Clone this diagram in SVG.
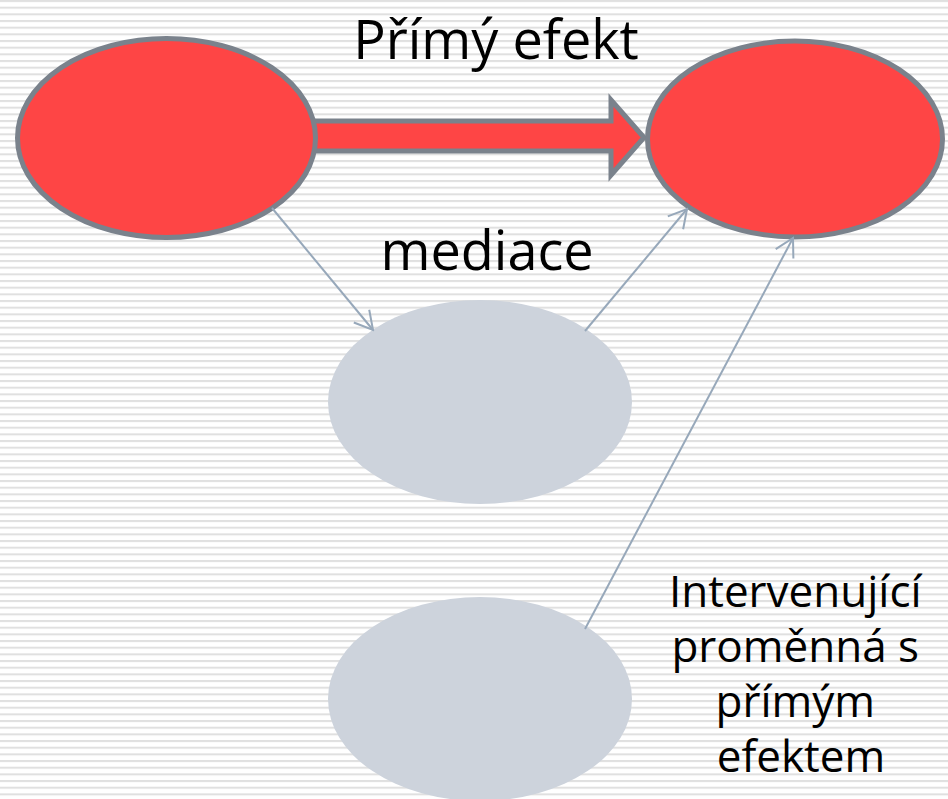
<svg xmlns="http://www.w3.org/2000/svg" width="948" height="799" viewBox="0 0 948 799">
  <defs>
    <pattern id="stripes" x="0" y="0" width="20" height="6.667" patternUnits="userSpaceOnUse">
      <rect x="0" y="0" width="20" height="6.667" fill="#ffffff"/>
      <rect x="0" y="0" width="20" height="2" fill="#e0e0e0"/>
    </pattern>
    <marker id="open" markerUnits="userSpaceOnUse" viewBox="-22 -12 24 24" refX="0" refY="0" markerWidth="24" markerHeight="24" orient="auto">
      <path d="M-18,-10 L0,0 L-18,10" fill="none" stroke="#97a8ba" stroke-width="2"/>
    </marker>
  </defs>
  <style>
    .red { fill: #fe4545; stroke: #7a828c; stroke-width: 5; }
    .grey { fill: #cdd3dc; stroke: none; }
    .conn { fill: none; stroke: #97a8ba; stroke-width: 2; marker-end: url(#open); }
    .lbl { font-family: "Open Sans", "Noto Sans", "DejaVu Sans", sans-serif; fill: #000000; text-anchor: middle; }
  </style>
  <rect width="948" height="799" fill="url(#stripes)"/>

  <g id="direct-arrow">
    <polygon class="red" stroke-linejoin="miter" points="300,121 611,121 611,100 644,137.5 611,175 611,151 300,151"/>
  </g>

  <g id="node-x">
    <ellipse class="red" cx="166.5" cy="138" rx="149" ry="99.5"/>
  </g>
  <g id="node-y">
    <ellipse class="red" cx="795" cy="139" rx="147.5" ry="98"/>
  </g>
  <g id="node-mediator">
    <ellipse class="grey" cx="480" cy="402" rx="152" ry="102"/>
  </g>
  <g id="node-intervening">
    <ellipse class="grey" cx="480" cy="699" rx="152" ry="102"/>
  </g>

  <g id="connectors">
    <line class="conn" x1="272" y1="208" x2="373" y2="330"/>
    <line class="conn" x1="585" y1="331" x2="687" y2="209"/>
    <line class="conn" x1="585" y1="629" x2="793" y2="238"/>
  </g>

  <g id="labels">
    <text class="lbl" x="496" y="59" font-size="54">Přímý efekt</text>
    <text class="lbl" x="487" y="270" font-size="54">mediace</text>
    <text class="lbl" font-size="44">
      <tspan x="801" y="607">Intervenující</tspan>
      <tspan x="801" y="662">proměnná s</tspan>
      <tspan x="801" y="717">přímým</tspan>
      <tspan x="801" y="772">efektem</tspan>
    </text>
  </g>
</svg>
